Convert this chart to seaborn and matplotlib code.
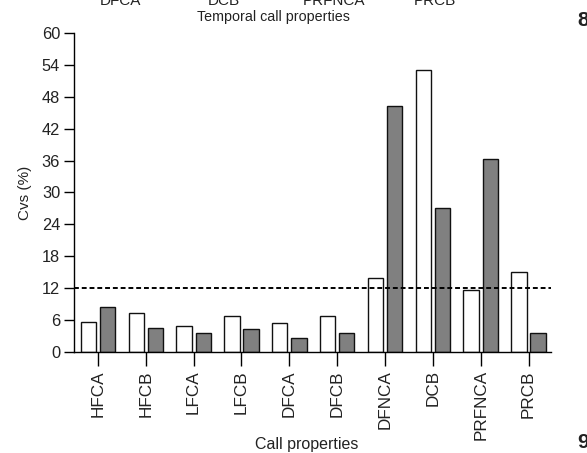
import matplotlib
matplotlib.use("Agg")
import matplotlib.pyplot as plt
import seaborn as sns
import pandas as pd

categories = ["HFCA", "HFCB", "LFCA", "LFCB", "DFCA", "DFCB", "DFNCA", "DCB", "PRFNCA", "PRCB"]
series_white = [5.6, 7.4, 4.8, 6.8, 5.5, 6.8, 14.0, 53.0, 11.7, 15.0]
series_gray = [8.5, 4.6, 3.5, 4.4, 2.7, 3.6, 46.2, 27.0, 36.3, 3.6]
yticks = [0, 6, 12, 18, 24, 30, 36, 42, 48, 54, 60]
threshold = 12
top_labels = ["DFCA", "DCB", "PRFNCA", "PRCB"]

df = pd.DataFrame({
    "cat": categories * 2,
    "val": series_white + series_gray,
    "grp": ["white"] * len(categories) + ["gray"] * len(categories),
})

sns.set_theme(style="ticks")
plt.rcParams["font.family"] = ["Liberation Sans", "DejaVu Sans"]

fig = plt.figure(figsize=(5.87, 4.53), dpi=100)
ax = fig.add_axes([74 / 587, 1 - 352 / 453, (551 - 74) / 587, (352 - 33) / 453])

sns.barplot(data=df, x="cat", y="val", hue="grp", order=categories,
            hue_order=["white", "gray"], palette={"white": "white", "gray": "#808080"},
            width=0.8, gap=0.2, edgecolor="#111111", linewidth=1.0, ax=ax, legend=False)

ax.axhline(threshold, color="black", linestyle=(0, (2.5, 1.5)), linewidth=1.4, zorder=5)

ax.set_xlim(-0.5, 9.47)
ax.set_ylim(0, 60)
ax.set_yticks(yticks)
ax.set_yticklabels([str(t) for t in yticks], fontsize=11.8, color="#222222")
ax.set_xticks(range(len(categories)))
ax.set_xticklabels(categories, rotation=90, fontsize=12.3, color="#222222")
ax.tick_params(axis="y", length=7, width=1, color="black", pad=3)
ax.tick_params(axis="x", length=10, width=1, color="black", pad=3)
for s in ["top", "right"]:
    ax.spines[s].set_visible(False)
for s in ["left", "bottom"]:
    ax.spines[s].set_linewidth(1)
    ax.spines[s].set_color("black")

ax.set_xlabel("")
ax.set_ylabel("Cvs (%)", fontsize=11, color="#222222", labelpad=7)
fig.text(307 / 587, 1 - 445 / 453, "Call properties", ha="center", va="center",
         fontsize=11.5, color="#222222")
fig.text(273 / 587, 1 - 17 / 453, "Temporal call properties", ha="center", va="center",
         fontsize=10.3, color="#222222")

for lbl, xp in zip(top_labels, [120, 224, 334, 435]):
    fig.text(xp / 587, 1 - 5 / 453, lbl, ha="center", va="baseline",
             fontsize=11, color="#222222")

fig.text(577 / 587, 1 - 20 / 453, "8", ha="left", va="center", fontsize=15,
         fontweight="bold", color="#222222")
fig.text(577 / 587, 1 - 443 / 453, "9", ha="left", va="center", fontsize=15,
         fontweight="bold", color="#222222")

fig.savefig("out.png", dpi=100)
